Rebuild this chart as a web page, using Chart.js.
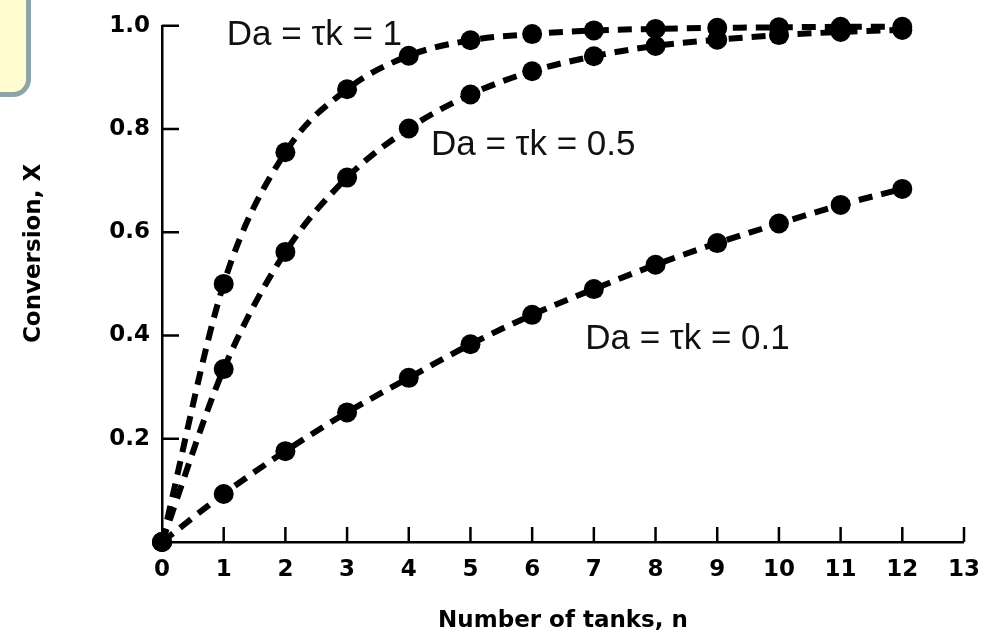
<!DOCTYPE html>
<html>
<head>
<meta charset="utf-8">
<script src="https://cdn.jsdelivr.net/npm/chart.js@4"></script>
<style>
  html, body { margin: 0; padding: 0; background: #fff; }
  #wrap { position: relative; width: 994px; height: 637px; overflow: hidden; }
  #note {
    position: absolute; left: -20px; top: -20px; width: 51px; height: 117px;
    box-sizing: border-box; background: #fffdcf; border: 5px solid #8fa4a8;
    border-radius: 0 0 18px 0;
  }
</style>
</head>
<body>
<div id="wrap">
  <canvas id="tanks"></canvas>
  <div id="note"></div>
</div>
<script>
const tanks = [0, 1, 2, 3, 4, 5, 6, 7, 8, 9, 10, 11, 12];
const convDa1 = [0, 0.50, 0.755, 0.877, 0.942, 0.972, 0.984, 0.991, 0.994, 0.996, 0.997, 0.998, 0.998];
const convDa05 = [0, 0.335, 0.562, 0.706, 0.801, 0.867, 0.912, 0.941, 0.961, 0.973, 0.982, 0.988, 0.992];
const convDa01 = [0, 0.093, 0.176, 0.251, 0.318, 0.383, 0.440, 0.490, 0.537, 0.579, 0.617, 0.653, 0.684];
const curveLabels = ["Da = \u03c4k = 1", "Da = \u03c4k = 0.5", "Da = \u03c4k = 0.1"];
const yTitle = "Conversion, X";

const tickFont = { family: "DejaVu Sans", weight: "bold", size: 23 };
const titleFont = { family: "DejaVu Sans", weight: "bold", size: 23 };

function points(ys) {
  return tanks.map((n, i) => ({ x: n, y: ys[i] }));
}

function series(label, ys) {
  return {
    label: label,
    data: points(ys),
    borderColor: "#000",
    backgroundColor: "#000",
    borderWidth: 6,
    borderDash: [14, 9],
    pointRadius: 10,
    pointHoverRadius: 10,
    pointBorderWidth: 0,
    cubicInterpolationMode: "monotone",
    fill: false,
    clip: false,
  };
}

// ticks in the figure point into the plot area
const inwardTicks = {
  id: "inwardTicks",
  beforeDatasetsDraw(chart) {
    const { ctx, scales: { x, y } } = chart;
    ctx.save();
    ctx.strokeStyle = "#000";
    ctx.lineWidth = 2.5;
    ctx.beginPath();
    x.ticks.forEach((t) => {
      if (t.value === 0) return;
      const px = x.getPixelForValue(t.value);
      ctx.moveTo(px, x.top);
      ctx.lineTo(px, x.top - 15);
    });
    y.ticks.forEach((t) => {
      if (t.value === 0) return;
      const py = y.getPixelForValue(t.value);
      ctx.moveTo(y.right, py);
      ctx.lineTo(y.right + 17, py);
    });
    ctx.stroke();
    ctx.restore();
  },
};

// curve names next to each curve, and the y title (sits above the axis middle)
const curveNames = {
  id: "curveNames",
  afterDatasetsDraw(chart) {
    const { ctx, scales: { x, y } } = chart;
    const spots = [[1.05, 0.981], [4.36, 0.769], [6.86, 0.393]];
    ctx.save();
    ctx.font = '35px "Liberation Sans"';
    ctx.fillStyle = "#111";
    ctx.textAlign = "left";
    ctx.textBaseline = "middle";
    curveLabels.forEach((txt, i) => {
      ctx.fillText(txt, x.getPixelForValue(spots[i][0]), y.getPixelForValue(spots[i][1]));
    });
    ctx.translate(34, y.getPixelForValue(0.559));
    ctx.rotate(-Math.PI / 2);
    ctx.font = 'bold 23px "DejaVu Sans"';
    ctx.fillStyle = "#000";
    ctx.textAlign = "center";
    ctx.fillText(yTitle, 0, 0);
    ctx.restore();
  },
};

new Chart(document.getElementById("tanks"), {
  type: "line",
  data: {
    datasets: [
      series(curveLabels[0], convDa1),
      series(curveLabels[1], convDa05),
      series(curveLabels[2], convDa01),
    ],
  },
  options: {
    responsive: true,
    maintainAspectRatio: false,
    animation: false,
    layout: { padding: { top: 23, right: 27, left: 0, bottom: 0 } },
    plugins: {
      legend: { display: false },
      tooltip: { enabled: false },
    },
    scales: {
      x: {
        type: "linear",
        min: 0,
        max: 13,
        afterFit(s) { s.height = 95; },
        border: { display: true, color: "#000", width: 2.5 },
        grid: { display: true, drawOnChartArea: false, drawTicks: false },
        ticks: { stepSize: 1, padding: 14, color: "#000", font: tickFont, maxRotation: 0 },
        title: {
          display: true,
          text: "Number of tanks, n",
          color: "#000",
          font: titleFont,
          padding: { top: 2, bottom: 2 },
        },
      },
      y: {
        type: "linear",
        min: 0,
        max: 1,
        afterFit(s) { s.width = 162; },
        border: { display: true, color: "#000", width: 2.5 },
        grid: { display: true, drawOnChartArea: false, drawTicks: false },
        ticks: {
          stepSize: 0.2,
          padding: 12,
          color: "#000",
          font: tickFont,
          callback: (v) => (v === 0 ? "" : v.toFixed(1)),
        },
        title: { display: false },
      },
    },
  },
  plugins: [inwardTicks, curveNames],
});
</script>
</body>
</html>
